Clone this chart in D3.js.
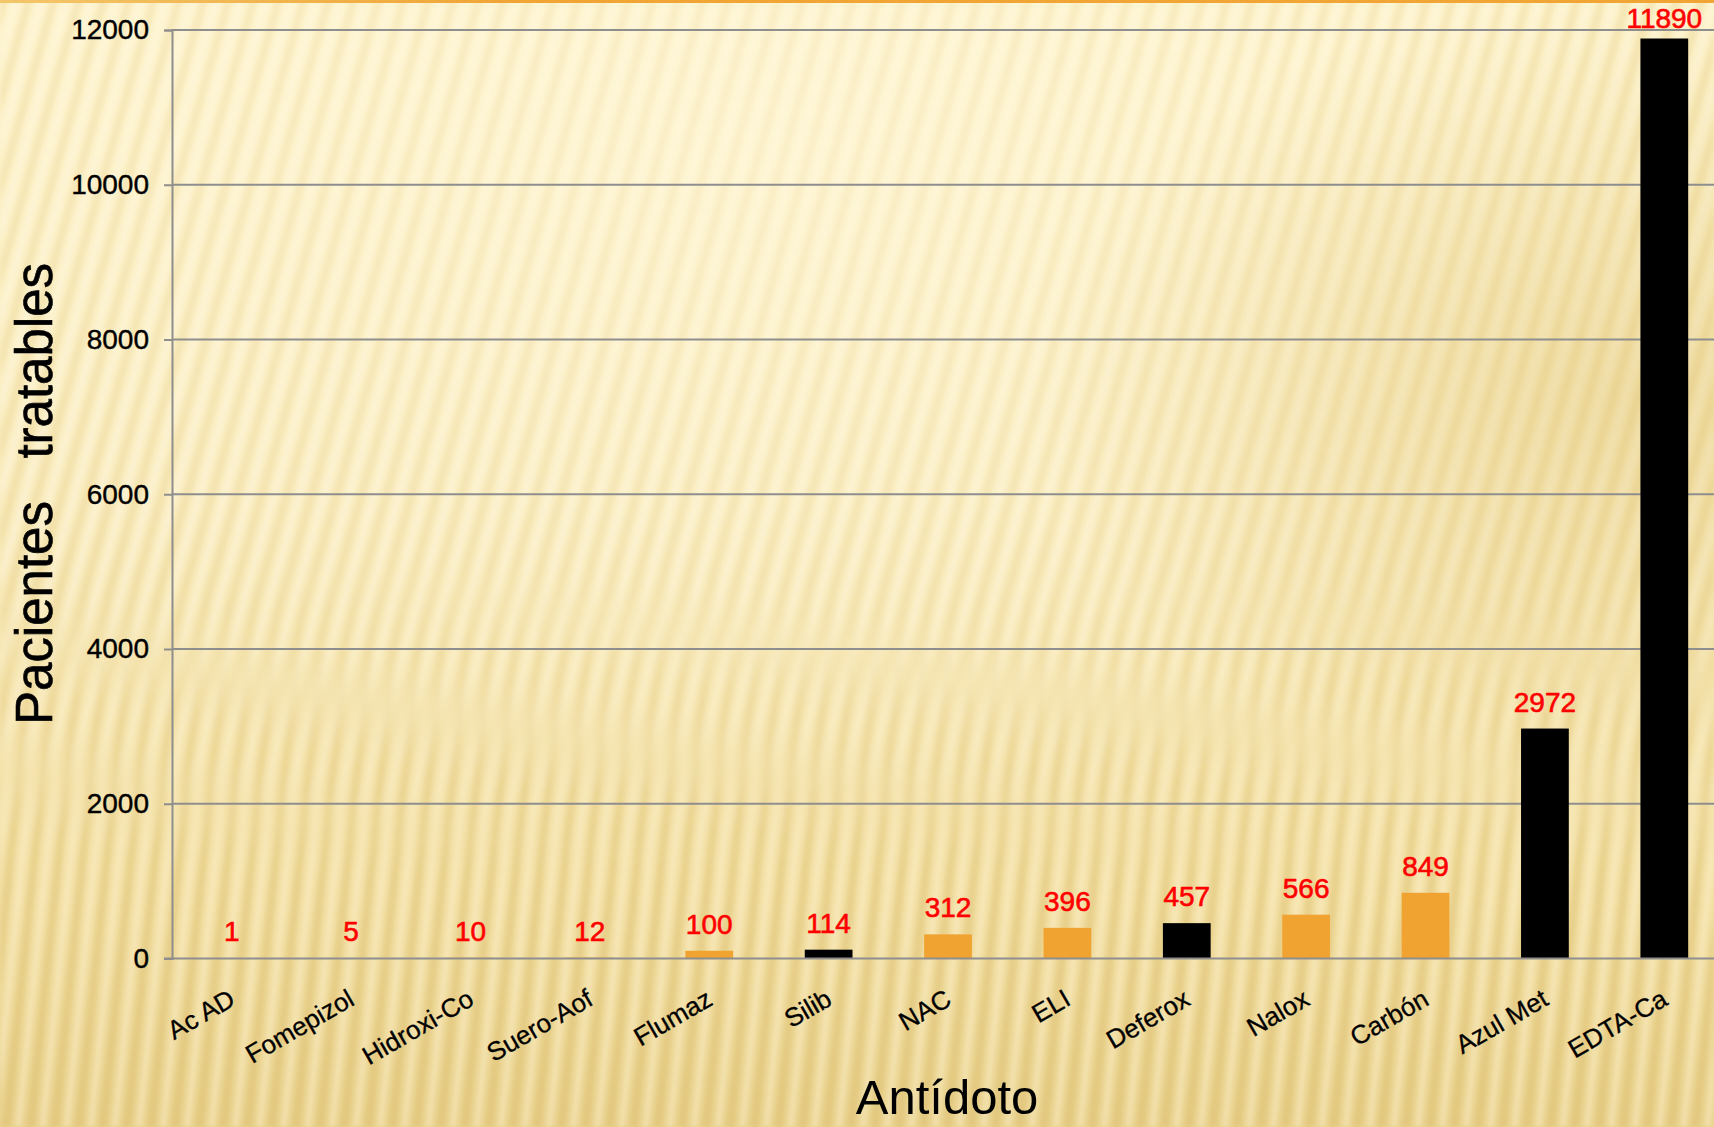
<!DOCTYPE html>
<html>
<head>
<meta charset="utf-8">
<script src="https://cdn.jsdelivr.net/npm/d3@7/dist/d3.min.js"></script>
<style>
  html, body { margin: 0; padding: 0; background: #F6E4AA; }
  svg { display: block; }
  text { font-family: "Liberation Sans", Arial, sans-serif; }
</style>
</head>
<body>
<svg id="chart" width="1714" height="1127"></svg>
<script>
// ---- data ----
const categories = ["Ac AD", "Fomepizol", "Hidroxi-Co", "Suero-Aof", "Flumaz", "Silib", "NAC", "ELI", "Deferox", "Nalox", "Carbón", "Azul Met", "EDTA-Ca"];
const values = [1, 5, 10, 12, 100, 114, 312, 396, 457, 566, 849, 2972, 11890];
const darkCategories = ["Silib", "Deferox", "Azul Met", "EDTA-Ca"];
const yTicks = [0, 2000, 4000, 6000, 8000, 10000, 12000];
const xTitle = "Antídoto";
const yTitle = "Pacientes   tratables";

const W = 1714, H = 1127;
const svg = d3.select("#chart");
const defs = svg.append("defs");

// background gradient
const bg = defs.append("linearGradient").attr("id", "bgGrad")
  .attr("x1", 0).attr("y1", 0).attr("x2", 0).attr("y2", 1);
bg.append("stop").attr("offset", "0%").attr("stop-color", "#FDF2C9");
bg.append("stop").attr("offset", "45%").attr("stop-color", "#F9EBBC");
bg.append("stop").attr("offset", "80%").attr("stop-color", "#F2DFA3");
bg.append("stop").attr("offset", "100%").attr("stop-color", "#E9D28E");

const glow = defs.append("radialGradient").attr("id", "glow")
  .attr("cx", 0.45).attr("cy", 0.12).attr("r", 0.6);
glow.append("stop").attr("offset", "0%").attr("stop-color", "#FFF8DC").attr("stop-opacity", 0.55);
glow.append("stop").attr("offset", "100%").attr("stop-color", "#FFF8DC").attr("stop-opacity", 0);

const shade = defs.append("radialGradient").attr("id", "shade")
  .attr("cx", 0.95).attr("cy", 0.35).attr("r", 0.35);
shade.append("stop").attr("offset", "0%").attr("stop-color", "#D9B961").attr("stop-opacity", 0.35);
shade.append("stop").attr("offset", "100%").attr("stop-color", "#D9B961").attr("stop-opacity", 0);

const blur = defs.append("filter").attr("id", "soft").attr("x", "-5%").attr("y", "-5%").attr("width", "110%").attr("height", "110%");
blur.append("feGaussianBlur").attr("stdDeviation", 2.2);

// stripes (slanted in upper part, more vertical lower)
function stripePattern(id, angle, dark, light, darkOp) {
  const p = defs.append("pattern").attr("id", id)
    .attr("patternUnits", "userSpaceOnUse").attr("width", 24).attr("height", 60)
    .attr("patternTransform", `rotate(${angle})`);
  p.append("rect").attr("x", 0).attr("y", 0).attr("width", 8).attr("height", 60)
    .attr("fill", dark).attr("opacity", darkOp);
  p.append("rect").attr("x", 13).attr("y", 0).attr("width", 6).attr("height", 60)
    .attr("fill", light).attr("opacity", 0.4);
}
stripePattern("stripes1", 16, "#D8B65A", "#FFFBEA", 0.2);
stripePattern("stripes2", 6, "#D0AC4E", "#FFF6D8", 0.28);

const m1 = defs.append("linearGradient").attr("id", "m1g").attr("x1", 0).attr("y1", 0).attr("x2", 0).attr("y2", 1);
m1.append("stop").attr("offset", "0%").attr("stop-color", "white");
m1.append("stop").attr("offset", "50%").attr("stop-color", "white");
m1.append("stop").attr("offset", "78%").attr("stop-color", "black");
const mask1 = defs.append("mask").attr("id", "mask1");
mask1.append("rect").attr("width", W).attr("height", H).attr("fill", "url(#m1g)");
const m2 = defs.append("linearGradient").attr("id", "m2g").attr("x1", 0).attr("y1", 0).attr("x2", 0).attr("y2", 1);
m2.append("stop").attr("offset", "0%").attr("stop-color", "black");
m2.append("stop").attr("offset", "50%").attr("stop-color", "black");
m2.append("stop").attr("offset", "78%").attr("stop-color", "white");
const mask2 = defs.append("mask").attr("id", "mask2");
mask2.append("rect").attr("width", W).attr("height", H).attr("fill", "url(#m2g)");

svg.append("rect").attr("width", W).attr("height", H).attr("fill", "url(#bgGrad)");
const stripeG = svg.append("g").attr("filter", "url(#soft)");
stripeG.append("rect").attr("x", -20).attr("y", -20).attr("width", W + 40).attr("height", H + 40).attr("fill", "url(#stripes1)").attr("mask", "url(#mask1)");
stripeG.append("rect").attr("x", -20).attr("y", -20).attr("width", W + 40).attr("height", H + 40).attr("fill", "url(#stripes2)").attr("mask", "url(#mask2)");
svg.append("rect").attr("width", W).attr("height", H).attr("fill", "url(#glow)");
svg.append("rect").attr("width", W).attr("height", H).attr("fill", "url(#shade)");

// top orange rule
const topG = defs.append("linearGradient").attr("id", "topG").attr("x1", 0).attr("y1", 0).attr("x2", 1).attr("y2", 0);
topG.append("stop").attr("offset", "0%").attr("stop-color", "#F3C66A");
topG.append("stop").attr("offset", "30%").attr("stop-color", "#F0A535");
topG.append("stop").attr("offset", "100%").attr("stop-color", "#F0A535");
svg.append("rect").attr("x", 0).attr("y", 0).attr("width", W).attr("height", 3).attr("fill", "url(#topG)");

// ---- scales ----
const x = d3.scaleBand().domain(categories).range([172, 1724]).paddingInner(0.6).paddingOuter(0.3);
const y = d3.scaleLinear().domain([0, 12000]).range([958.5, 30]);
const color = c => darkCategories.includes(c) ? "#000000" : "#F0A331";

const gridColor = "#8E8E8E";

// gridlines
svg.append("g").selectAll("line").data(yTicks.filter(t => t > 0)).join("line")
  .attr("x1", 172).attr("x2", W)
  .attr("y1", d => y(d)).attr("y2", d => y(d))
  .attr("stroke", gridColor).attr("stroke-width", 2);

// y axis
const yAxis = svg.append("g").attr("transform", "translate(172,0)")
  .call(d3.axisLeft(y).tickValues(yTicks).tickSize(8).tickPadding(15).tickFormat(d3.format("d")));
yAxis.select(".domain").attr("stroke", gridColor).attr("stroke-width", 2);
yAxis.selectAll(".tick line").attr("stroke", gridColor).attr("stroke-width", 2);
yAxis.selectAll(".tick text").attr("fill", "#000").attr("font-size", 28)
  .attr("stroke", "#000").attr("stroke-width", 0.4)
  .attr("font-family", "'Liberation Sans', Arial, sans-serif");

// bars
svg.append("g").selectAll("rect").data(categories).join("rect")
  .attr("x", d => x(d))
  .attr("width", x.bandwidth())
  .attr("y", (d, i) => y(values[i]))
  .attr("height", (d, i) => y(0) - y(values[i]))
  .attr("fill", d => color(d));

// x axis line
svg.append("line").attr("x1", 164).attr("x2", W).attr("y1", y(0)).attr("y2", y(0))
  .attr("stroke", gridColor).attr("stroke-width", 2);

// value labels
svg.append("g").selectAll("text").data(categories).join("text")
  .attr("x", d => x(d) + x.bandwidth() / 2)
  .attr("y", (d, i) => Math.max(y(values[i]) - 17, 28))
  .attr("text-anchor", "middle")
  .attr("fill", "#FF0000")
  .attr("stroke", "#FF0000").attr("stroke-width", 0.6)
  .attr("font-size", 28)
  .text((d, i) => values[i]);

// category labels
svg.append("g").selectAll("text").data(categories).join("text")
  .attr("transform", d => `translate(${x(d) + x.bandwidth() / 2 + 5},1004) rotate(-30)`)
  .attr("text-anchor", "end")
  .attr("fill", "#000")
  .attr("stroke", "#000").attr("stroke-width", 0.3)
  .attr("font-size", 26)
  .text(d => d);

// axis titles
svg.append("text").attr("x", 947).attr("y", 1114).attr("text-anchor", "middle")
  .attr("font-size", 49).attr("fill", "#000").text(xTitle);

svg.append("text").attr("transform", "translate(52,494) rotate(-90)")
  .attr("text-anchor", "middle").attr("font-size", 51).attr("fill", "#000")
  .attr("stroke", "#000").attr("stroke-width", 0.6)
  .style("white-space", "pre").attr("xml:space", "preserve").text(yTitle);
</script>
</body>
</html>
